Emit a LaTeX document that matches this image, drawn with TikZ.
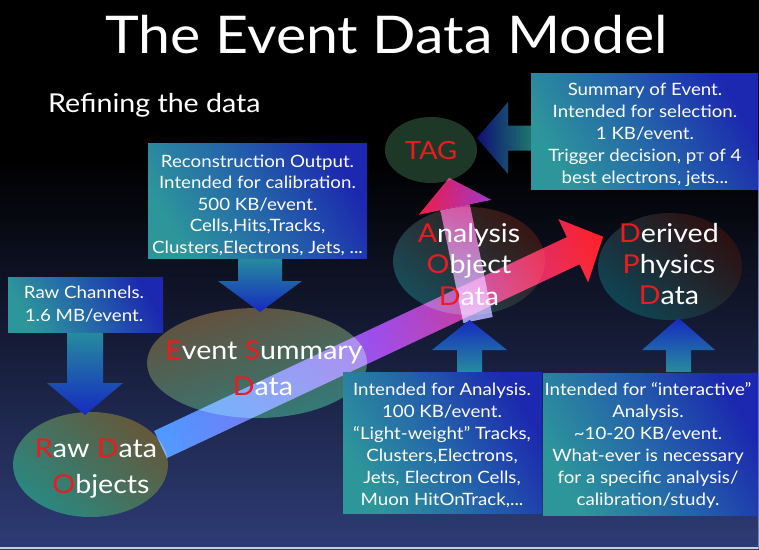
\documentclass[tikz,border=0pt]{standalone}
\usepackage{fontspec}
\setmainfont{Lato}[FakeStretch=1.1]
\usetikzlibrary{shapes.geometric}
\newcommand{\tdots}{...}
\definecolor{bgbot}{RGB}{46,60,118}
\definecolor{framegray}{RGB}{200,205,215}
\definecolor{boxblue}{RGB}{28,40,175}
\definecolor{boxmid}{RGB}{36,100,170}
\definecolor{boxteal}{RGB}{45,150,155}
\definecolor{initred}{RGB}{235,28,32}
\definecolor{arrblue}{RGB}{22,42,192}
\definecolor{arrteal}{RGB}{38,140,158}
\definecolor{navytip}{RGB}{14,16,118}
\definecolor{tealtail}{RGB}{30,118,108}
\definecolor{bigblue}{RGB}{50,135,255}
\definecolor{bigpurple}{RGB}{150,55,225}
\definecolor{bigred}{RGB}{255,22,16}
\definecolor{vmag}{RGB}{200,60,150}
\definecolor{vlav}{RGB}{150,150,220}
\definecolor{vred}{RGB}{236,22,60}
\definecolor{vpurple}{RGB}{156,52,200}
\definecolor{tagfill}{RGB}{30,56,40}
\definecolor{ellteal}{RGB}{24,76,90}
\definecolor{ellbrown}{RGB}{56,22,18}
\definecolor{dpdteal}{RGB}{16,68,84}
\definecolor{dpdbrown}{RGB}{44,16,16}
\definecolor{esdbrown}{RGB}{100,80,60}
\definecolor{esdteal}{RGB}{50,124,122}
\definecolor{rdobrown}{RGB}{100,88,58}
\definecolor{rdoteal}{RGB}{42,136,128}
\begin{document}
\begin{tikzpicture}[x=1pt,y=-1pt,
  boxstyle/.style={rectangle, inner sep=0pt, outer sep=0pt, top color=boxblue, bottom color=boxteal, middle color=boxmid, shading angle=-60},
  ellstyle/.style={ellipse, inner sep=0pt, outer sep=0pt},
  boxtext/.style={text=white, inner sep=0pt, font=\fontsize{17}{17}\selectfont},
  elltext/.style={text=white, inner sep=0pt, font=\fontsize{26}{26}\selectfont},
  downarrow/.style={top color=arrteal, bottom color=arrblue},
  uparrow/.style={top color=arrblue, bottom color=arrteal},
]
\useasboundingbox (0,0) rectangle (759,549);
% background
\fill[black] (0,0) rectangle (759,160);
\shade[top color=black, bottom color=bgbot] (0,159.5) rectangle (759,549);
\fill[framegray] (0,546.5) rectangle (759,549);
\fill[framegray!50!bgbot] (757.8,160) rectangle (759,549);

% titles
\node[text=white, inner sep=0pt, anchor=base, font=\fontsize{52}{52}\selectfont] (title) at (386.5,53) {The Event Data Model};
\node[text=white, inner sep=0pt, anchor=base west, font=\fontsize{26}{26}\selectfont] (subtitle) at (48,112) {Refining the data};

% ellipses
\node[ellstyle, minimum width=92pt, minimum height=66pt, fill=tagfill] (tag) at (431,150) {};
\node[ellstyle, minimum width=152pt, minimum height=108pt, top color=ellbrown, bottom color=ellteal, shading angle=-40] (aod) at (469,261) {};
\node[ellstyle, minimum width=144pt, minimum height=107pt, top color=dpdbrown, bottom color=dpdteal, shading angle=-40] (dpd) at (670,266.5) {};
\node[ellstyle, minimum width=220pt, minimum height=110pt, top color=esdbrown, bottom color=esdteal, shading angle=15] (esd) at (257,363) {};
\node[ellstyle, minimum width=155pt, minimum height=105pt, top color=rdobrown, bottom color=rdoteal, shading angle=-40] (rdo) at (90.5,464.5) {};

% data-flow arrows, lightening what they cross
\begin{scope}[blend mode=screen]
% big arrow RDO -> DPD
\coordinate (bigstart) at (160.5,444.5);
\coordinate (bigtip) at (603.1,236.7);
\shade[left color=bigblue, right color=bigred, middle color=bigpurple]
  (154.1,430.9) -- (566.8,237.1) -- (558.3,219.0) -- (bigtip) -- (588.1,282.4) -- (579.6,264.3) -- (166.9,458.1) -- cycle;
% arrow AOD -> TAG
\coordinate (vstart) at (478,320);
\coordinate (vtip) at (449.1,177.9);
\shade[top color=vmag, bottom color=vlav]
  (492.7,317.0) -- (469.8,204.3) -- (440.4,210.3) -- (463.3,323.0) -- cycle;
\shade[left color=vred, right color=vpurple] (418.8,214.7) -- (vtip) -- (491.4,199.9) -- cycle;
\end{scope}

% small block arrows
\coordinate (sumtail) at (531,138);
\shade[left color=navytip, right color=tealtail] (sumtail) ++(0,-12.5) -- ++(-23,0) -- ++(0,-23.5) -- ++(-31,36) -- ++(31,36) -- ++(0,-23.5) -- ++(23,0) -- cycle;
\coordinate (recotail) at (260,258);
\shade[downarrow] (recotail) ++(-22,0) -- ++(44,0) -- ++(0,23) -- ++(20,0) -- ++(-42,31) -- ++(-42,-31) -- ++(20,0) -- cycle;
\coordinate (rawtail) at (85,332);
\shade[downarrow] (rawtail) ++(-18,0) -- ++(36,0) -- ++(0,51) -- ++(20,0) -- ++(-38,32) -- ++(-38,-32) -- ++(20,0) -- cycle;
\coordinate (aodtail) at (469.5,372);
\shade[uparrow] (aodtail) ++(-12.5,0) -- ++(25,0) -- ++(0,-22) -- ++(25,0) -- ++(-37.5,-30) -- ++(-37.5,30) -- ++(25,0) -- cycle;
\coordinate (dpdtail) at (678.5,372);
\shade[uparrow] (dpdtail) ++(-12.5,0) -- ++(25,0) -- ++(0,-22) -- ++(24,0) -- ++(-36.5,-32) -- ++(-36.5,32) -- ++(24,0) -- cycle;

% boxes
\node[boxstyle, minimum width=227pt, minimum height=116pt, anchor=north west] (sumbox) at (531,73) {};
\node[boxstyle, minimum width=219pt, minimum height=115pt, anchor=north west] (recobox) at (148,143) {};
\node[boxstyle, minimum width=155pt, minimum height=55pt, anchor=north west] (rawbox) at (8,277) {};
\node[boxstyle, minimum width=199pt, minimum height=141pt, anchor=north west] (aodbox) at (343,372) {};
\node[boxstyle, minimum width=215pt, minimum height=142pt, anchor=north west] (dpdbox) at (543,373) {};

% box texts
\foreach \ln [count=\i] in {{Summary of Event.},{Intended for selection.},{1 KB/event.},{Trigger decision, p{\fontsize{12}{12}\selectfont T} of 4},{best electrons, jets\tdots}}
  \node[boxtext, anchor=base] (sumt\i) at (645,{95+22*(\i-1)}) {\ln};
\foreach \ln [count=\i] in {{Reconstruction Output.},{Intended for calibration.},{500 KB/event.},{Cells,Hits,Tracks,},{Clusters,Electrons, Jets, \tdots}}
  \node[boxtext, anchor=base] (recot\i) at (257.5,{167+21.5*(\i-1)}) {\ln};
\foreach \ln [count=\i] in {{Raw Channels.},{1.6 MB/event.}}
  \node[boxtext, anchor=base] (rawt\i) at (84,{298+23*(\i-1)}) {\ln};
\foreach \ln [count=\i] in {{Intended for Analysis.},{100 KB/event.},{“Light-weight” Tracks,},{Clusters,Electrons,},{Jets, Electron Cells,},{Muon HitOnTrack,\tdots}}
  \node[boxtext, anchor=base] (aodt\i) at (442,{395+22*(\i-1)}) {\ln};
\foreach \ln [count=\i] in {{Intended for “interactive”},{Analysis.},{\textasciitilde 10-20 KB/event.},{What-ever is necessary},{for a specific analysis/},{calibration/study.}}
  \node[boxtext, anchor=base] (dpdt\i) at (648,{395+22*(\i-1)}) {\ln};

% ellipse texts
\node[text=initred, inner sep=0pt, anchor=base, font=\fontsize{25}{25}\selectfont] (tagt) at (431,159) {TAG};
\node[elltext, anchor=base] (aodt1x) at (469,242) {\textcolor{initred}{A}nalysis};
\node[elltext, anchor=base] (aodt2x) at (469,273) {\textcolor{initred}{O}bject};
\node[elltext, anchor=base] (aodt3x) at (469,305) {\textcolor{initred}{D}ata};
\node[elltext, anchor=base] (dpdt1x) at (669,242) {\textcolor{initred}{D}erived};
\node[elltext, anchor=base] (dpdt2x) at (669,273) {\textcolor{initred}{P}hysics};
\node[elltext, anchor=base] (dpdt3x) at (669,304) {\textcolor{initred}{D}ata};
\node[elltext, anchor=base] (esdt1) at (264,359) {\textcolor{initred}{E}vent \textcolor{initred}{S}ummary};
\node[elltext, anchor=base] (esdt2) at (263,395) {\textcolor{initred}{D}ata};
\node[elltext, anchor=base] (rdot1) at (96,457) {\textcolor{initred}{R}aw \textcolor{initred}{D}ata};
\node[elltext, anchor=base] (rdot2) at (101,493) {\textcolor{initred}{O}bjects};
\end{tikzpicture}
\end{document}
